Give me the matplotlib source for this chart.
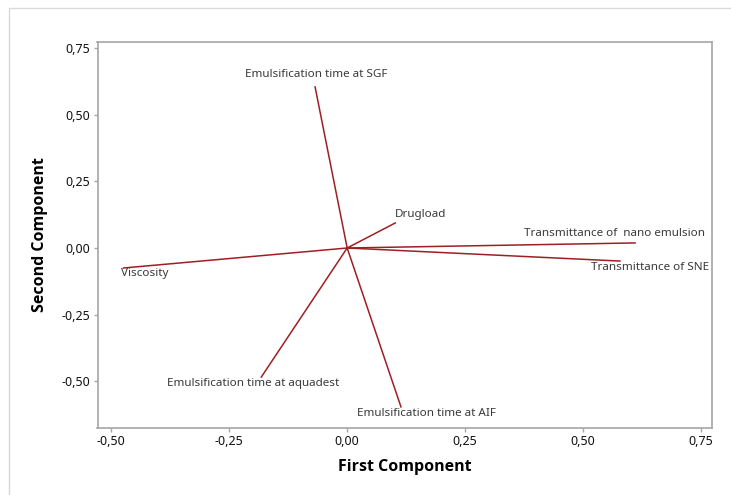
import matplotlib
matplotlib.use("Agg")
import matplotlib.pyplot as plt
import matplotlib.ticker as ticker
from matplotlib.patches import Rectangle

plt.rcParams["font.family"] = ["Noto Sans", "DejaVu Sans"]

# loadings
variables = [
    "Emulsification time at SGF",
    "Drugload",
    "Transmittance of  nano emulsion",
    "Transmittance of SNE",
    "Viscosity",
    "Emulsification time at aquadest",
    "Emulsification time at AIF",
]
pc1 = [-0.068, 0.102, 0.610, 0.578, -0.474, -0.182, 0.114]
pc2 = [0.604, 0.094, 0.019, -0.049, -0.075, -0.484, -0.596]

x_ticks = [-0.50, -0.25, 0.00, 0.25, 0.50, 0.75]
y_ticks = [-0.50, -0.25, 0.00, 0.25, 0.50, 0.75]

# label offsets in points and alignment (style only)
label_style = [
    ((1, 9), "center", "center"),
    ((0, 6), "left", "center"),
    ((-15, 6.5), "center", "center"),
    ((22, -4.5), "center", "center"),
    ((-1.5, -4), "left", "center"),
    ((-6, -4.5), "center", "center"),
    ((18, -4.5), "center", "center"),
]

LINE_COLOR = "#9e1f23"
GRAY = "#a6a6a6"


def comma_fmt(v, _=None):
    return f"{v:.2f}".replace(".", ",")


fig = plt.figure(figsize=(7.31, 4.95), dpi=100)
fig.patches.append(
    Rectangle((9 / 731, -0.01), 1.0, 1 - 8 / 495 + 0.01, transform=fig.transFigure,
              fill=False, edgecolor="#d9d9d9", linewidth=1.0)
)
ax = fig.add_axes([97.5 / 731, 1 - 428 / 495, (712 - 97.5) / 731, (428 - 42) / 495])

for x, y in zip(pc1, pc2):
    ax.plot([0, x], [0, y], color=LINE_COLOR, linewidth=1.1)

for name, x, y, (off, ha, va) in zip(variables, pc1, pc2, label_style):
    ax.annotate(name, (x, y), xytext=off, textcoords="offset points",
                ha=ha, va=va, fontsize=8.4, color="#3a3a3a")

ax.set_xlim(-0.529, 0.773)
ax.set_ylim(-0.675, 0.7725)
ax.set_xticks(x_ticks)
ax.set_yticks(y_ticks)
ax.xaxis.set_major_formatter(ticker.FuncFormatter(comma_fmt))
ax.yaxis.set_major_formatter(ticker.FuncFormatter(comma_fmt))
ax.tick_params(direction="out", length=3, width=1, color=GRAY,
               labelsize=9, labelcolor="#111111", pad=2)
for sp in ax.spines.values():
    sp.set_color(GRAY)
    sp.set_linewidth(1.2)

title_font = dict(fontsize=11.5, fontweight="bold", family=["Open Sans", "DejaVu Sans"])
ax.set_xlabel("First Component", labelpad=8, **title_font)
ax.set_ylabel("Second Component", labelpad=10, **title_font)

fig.savefig("out.png", dpi=100)
